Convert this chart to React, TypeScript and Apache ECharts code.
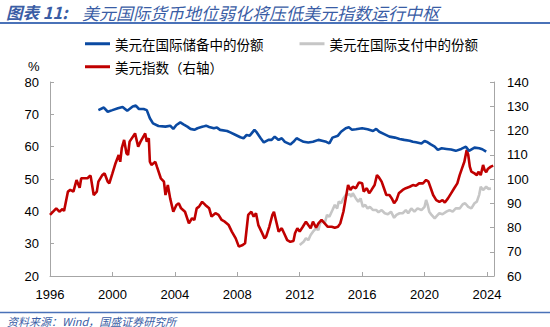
import React, { useEffect, useRef } from "react";
import * as echarts from "echarts";

const TITLE_PREFIX = "图表 11:";
const TITLE = "美元国际货币地位弱化将压低美元指数运行中枢";
const SOURCE = "资料来源：Wind，国盛证券研究所";
const SERIES_NAMES = ["美元在国际储备中的份额", "美元在国际支付中的份额", "美元指数（右轴）"];
const X_TICKS = [1996, 2000, 2004, 2008, 2012, 2016, 2020, 2024];

const reserveYears = [
  1999.1, 1999.45, 1999.7, 2000.0, 2000.35, 2000.65, 2000.95, 2001.3, 2001.5, 2001.7, 2002.0, 2002.2, 2002.4, 2002.6,
  2002.95, 2003.4, 2003.7, 2003.9, 2004.1, 2004.35, 2004.55, 2004.8, 2005.0, 2005.25, 2005.45, 2005.8, 2006.0, 2006.2,
  2006.5, 2006.7, 2006.9, 2007.35, 2007.55, 2007.9, 2008.2, 2008.4, 2008.6, 2008.8, 2009.1, 2009.25, 2009.5, 2009.7,
  2010.0, 2010.2, 2010.4, 2010.65, 2010.85, 2011.05, 2011.4, 2011.6, 2011.8, 2012.0, 2012.25, 2012.55, 2012.85, 2013.2,
  2013.5, 2013.7, 2013.9, 2014.1, 2014.45, 2014.65, 2014.95, 2015.15, 2015.35, 2015.6, 2016.0, 2016.35, 2016.7, 2016.9,
  2017.1, 2017.45, 2017.75, 2018.1, 2018.4, 2018.7, 2019.05, 2019.25, 2019.45, 2019.8, 2020.0, 2020.2, 2020.4, 2020.65,
  2020.85, 2021.1, 2021.4, 2021.7, 2022.0, 2022.35, 2022.65, 2022.85, 2023.2, 2023.5, 2023.7, 2023.95,
];
const reserveShare = [
  71.3, 72.1, 70.8, 71.3, 71.9, 72.3, 71.1, 72.4, 72.7, 71.65, 71.65, 71.3, 68.8, 67.2,
  66.4, 66.2, 66.5, 65.5, 66.7, 67.5, 66.9, 66.2, 65.5, 65.2, 65.7, 66.2, 66.5, 66.1,
  65.7, 65.9, 65.2, 64.85, 64.4, 63.6, 62.9, 62.6, 63.6, 63.4, 65.2, 64.4, 62.6, 61.3,
  62.1, 62.1, 63.1, 62.1, 62.6, 61.5, 60.7, 61.5, 62.6, 62.1, 61.5, 61.3, 61.5, 62.1,
  61.75, 61.5, 61.0, 62.8, 63.4, 64.6, 65.7, 66.0, 65.25, 65.4, 65.7, 65.4, 64.85, 65.5,
  64.6, 63.8, 63.1, 62.8, 62.4, 62.1, 61.85, 61.5, 61.35, 61.0, 61.75, 61.35, 60.7, 60.0,
  59.0, 59.5, 59.3, 59.1, 58.7, 59.3, 60.0, 58.7, 59.7, 59.5, 59.2, 58.45,
];

const paymentYears = [
  2012.0, 2012.25, 2012.4, 2012.55, 2012.7, 2012.85, 2013.05, 2013.2, 2013.3, 2013.5, 2013.6, 2013.75, 2013.9, 2014.1,
  2014.25, 2014.4, 2014.5, 2014.65, 2014.8, 2014.95, 2015.2, 2015.3, 2015.4, 2015.6, 2015.75, 2015.9, 2016.05, 2016.2,
  2016.35, 2016.5, 2016.7, 2016.9, 2017.05, 2017.25, 2017.45, 2017.65, 2017.85, 2018.05, 2018.2, 2018.4, 2018.6, 2018.8,
  2018.95, 2019.15, 2019.35, 2019.55, 2019.8, 2020.0, 2020.1, 2020.2, 2020.3, 2020.45, 2020.65, 2020.8, 2020.95, 2021.15,
  2021.4, 2021.6, 2021.8, 2022.0, 2022.25, 2022.45, 2022.6, 2022.8, 2023.0, 2023.2, 2023.35, 2023.5, 2023.6, 2023.75,
  2023.95, 2024.1, 2024.25,
];
const paymentShare = [
  29.6, 30.6, 31.7, 31.1, 32.7, 33.7, 34.75, 34.2, 36.3, 37.0, 36.3, 38.9, 38.3, 40.4,
  42.0, 40.9, 43.0, 42.5, 44.0, 45.1, 45.3, 44.5, 45.6, 44.0, 43.0, 44.0, 41.4, 42.0,
  40.9, 41.4, 40.4, 40.4, 39.7, 40.4, 39.4, 39.1, 39.9, 38.0, 38.9, 39.4, 39.4, 40.4,
  39.4, 40.9, 39.9, 40.9, 40.4, 41.4, 43.5, 42.0, 39.9, 38.9, 37.8, 38.65, 39.4, 39.1,
  39.9, 40.4, 39.9, 40.9, 40.9, 42.2, 42.5, 41.4, 40.9, 42.5, 43.0, 45.1, 47.6, 46.6,
  47.6, 46.9, 47.1,
];

const dxyYears = [
  1996.0, 1996.4, 1996.6, 1996.8, 1996.9, 1997.15, 1997.3, 1997.5, 1997.7, 1997.9, 1998.0, 1998.2, 1998.4, 1998.5,
  1998.6, 1998.8, 1999.0, 1999.1, 1999.35, 1999.5, 1999.7, 1999.8, 2000.0, 2000.2, 2000.4, 2000.5, 2000.6, 2000.75,
  2000.9, 2001.0, 2001.1, 2001.45, 2001.65, 2001.8, 2002.1, 2002.2, 2002.33, 2002.4, 2002.5, 2002.75, 2002.85, 2003.1,
  2003.3, 2003.4, 2003.55, 2003.7, 2003.9, 2004.1, 2004.25, 2004.4, 2004.65, 2004.9, 2005.1, 2005.25, 2005.4, 2005.55,
  2005.75, 2005.95, 2006.2, 2006.35, 2006.6, 2006.8, 2007.0, 2007.2, 2007.45, 2007.65, 2007.9, 2008.1, 2008.35, 2008.5,
  2008.7, 2008.9, 2009.05, 2009.2, 2009.35, 2009.55, 2009.75, 2009.85, 2010.05, 2010.25, 2010.35, 2010.5, 2010.65, 2010.85,
  2011.0, 2011.2, 2011.4, 2011.6, 2011.7, 2011.85, 2012.0, 2012.2, 2012.4, 2012.55, 2012.7, 2012.85, 2013.05, 2013.2,
  2013.4, 2013.6, 2013.8, 2014.05, 2014.25, 2014.45, 2014.6, 2014.8, 2014.95, 2015.1, 2015.25, 2015.4, 2015.6, 2015.8,
  2016.0, 2016.1, 2016.3, 2016.45, 2016.6, 2016.8, 2016.95, 2017.05, 2017.25, 2017.4, 2017.55, 2017.75, 2017.9, 2018.05,
  2018.2, 2018.35, 2018.6, 2018.8, 2019.05, 2019.25, 2019.45, 2019.65, 2019.9, 2020.1, 2020.25, 2020.4, 2020.55, 2020.75,
  2020.95, 2021.15, 2021.3, 2021.5, 2021.7, 2021.9, 2022.1, 2022.25, 2022.4, 2022.55, 2022.7, 2022.8, 2022.9, 2023.0,
  2023.2, 2023.35, 2023.45, 2023.6, 2023.75, 2023.85, 2023.95, 2024.05, 2024.25, 2024.4,
];
const dxyValues = [
  85.2, 87.9, 86.5, 87.6, 86.8, 94.8, 95.5, 94.8, 99.6, 96.4, 100.3, 100.3, 100.3, 101.0,
  101.4, 93.4, 94.8, 98.9, 101.6, 102.3, 98.9, 98.2, 102.3, 106.5, 109.9, 107.1, 112.7, 116.1,
  110.6, 109.9, 115.4, 118.8, 113.3, 115.4, 118.8, 115.4, 116.8, 107.1, 105.8, 107.1, 105.1, 100.3,
  98.9, 93.4, 97.5, 92.0, 86.5, 89.3, 90.0, 87.9, 86.5, 81.7, 83.8, 83.1, 87.9, 88.6,
  90.6, 89.3, 87.9, 84.5, 85.9, 85.2, 83.1, 82.4, 81.0, 78.3, 75.5, 72.1, 72.8, 73.5,
  85.2, 86.5, 84.5, 85.9, 81.0, 78.3, 75.5, 76.2, 80.3, 85.2, 86.5, 82.4, 78.3, 79.7,
  77.6, 74.8, 74.1, 74.4, 77.6, 79.7, 78.3, 80.3, 82.4, 81.0, 79.7, 82.4, 79.9, 81.7,
  83.1, 81.7, 80.3, 80.3, 79.9, 80.3, 81.7, 86.5, 92.0, 97.5, 95.5, 96.8, 96.2, 98.6,
  98.2, 94.8, 96.2, 94.1, 95.5, 97.5, 101.6, 100.9, 98.9, 96.2, 93.4, 93.4, 92.0, 90.0,
  91.3, 94.1, 95.5, 96.2, 96.8, 97.5, 97.2, 98.2, 98.2, 99.6, 98.9, 96.2, 93.4, 91.3,
  90.6, 91.3, 90.3, 92.0, 94.1, 96.2, 98.2, 101.6, 104.4, 107.1, 112.0, 109.9, 105.1, 103.0,
  102.3, 101.6, 103.0, 101.6, 105.8, 103.7, 102.8, 104.1, 105.1, 105.5,
];

const zip = (xs: number[], ys: number[]) => xs.map((x, i) => [x, ys[i]]);

export default function App() {
  const ref = useRef<HTMLDivElement>(null);
  useEffect(() => {
    if (!ref.current) return;
    const chart = echarts.init(ref.current, undefined, { renderer: "svg" });
    const axisLineStyle = { color: "#a6a6a6", width: 1 };
    const labelStyle = { color: "#000", fontSize: 13, fontFamily: "Liberation Sans" };
    const legendText = { fontSize: 13.5, color: "#000", fontFamily: "Noto Sans CJK SC" };
    chart.setOption({
      animation: false,
      backgroundColor: "#fff",
      grid: { left: 50, right: 56, top: 82, bottom: 51 },
      legend: [
        {
          data: [SERIES_NAMES[0], SERIES_NAMES[1]],
          left: 80,
          top: 32,
          itemWidth: 25,
          itemHeight: 3,
          itemGap: 36,
          icon: "rect",
          textStyle: legendText,
        },
        {
          data: [SERIES_NAMES[2]],
          left: 80,
          top: 55,
          itemWidth: 25,
          itemHeight: 3,
          icon: "rect",
          textStyle: legendText,
        },
      ],
      xAxis: {
        type: "value",
        min: 1996,
        max: 2024.45,
        interval: 4,
        axisLine: { show: true, lineStyle: axisLineStyle },
        axisTick: { show: true, inside: true, length: 4, lineStyle: axisLineStyle },
        splitLine: { show: false },
        axisLabel: {
          ...labelStyle,
          margin: 12,
          showMaxLabel: false,
          formatter: (v: number) => (X_TICKS.includes(v) ? String(v) : ""),
        },
      },
      yAxis: [
        {
          type: "value",
          min: 20,
          max: 80,
          interval: 10,
          position: "left",
          axisLine: { show: true, lineStyle: axisLineStyle },
          axisTick: { show: true, inside: true, length: 4, lineStyle: axisLineStyle },
          splitLine: { show: false },
          axisLabel: { ...labelStyle, margin: 11 },
        },
        {
          type: "value",
          min: 60,
          max: 140,
          interval: 10,
          position: "right",
          axisLine: { show: true, lineStyle: axisLineStyle },
          axisTick: { show: true, inside: true, length: 4, lineStyle: axisLineStyle },
          splitLine: { show: false },
          axisLabel: { ...labelStyle, margin: 13 },
        },
      ],
      graphic: [
        {
          type: "text",
          x: 6,
          y: 12,
          style: {
            text: TITLE_PREFIX,
            fontSize: 16.5,
            fontStyle: "italic",
            fontWeight: "bold",
            fontFamily: "Noto Sans CJK SC",
            fill: "#3a5da5",
            verticalAlign: "middle",
          },
        },
        {
          type: "text",
          x: 82,
          y: 12,
          style: {
            text: TITLE,
            fontSize: 17,
            fontStyle: "italic",
            fontFamily: "Noto Sans CJK SC",
            fill: "#3a5da5",
            verticalAlign: "middle",
          },
        },
        {
          type: "line",
          shape: { x1: 0, y1: 23, x2: 550, y2: 23 },
          style: { stroke: "#4a72b8", lineWidth: 2 },
        },
        {
          type: "text",
          left: 28,
          top: 60,
          style: { text: "%", fontSize: 13, fontFamily: "Liberation Sans", fill: "#000" },
        },
        {
          type: "line",
          shape: { x1: 0, y1: 312.5, x2: 550, y2: 312.5 },
          style: { stroke: "#4a72b8", lineWidth: 1.5 },
        },
        {
          type: "text",
          left: 7,
          top: 315,
          style: {
            text: SOURCE,
            fontSize: 11,
            fontStyle: "italic",
            fontFamily: "Noto Sans CJK SC",
            fill: "#3a5da5",
          },
        },
      ],
      series: [
        {
          name: SERIES_NAMES[0],
          type: "line",
          yAxisIndex: 0,
          data: zip(reserveYears, reserveShare),
          showSymbol: false,
          lineStyle: { color: "#0b4aa2", width: 2.6 },
          itemStyle: { color: "#0b4aa2" },
          z: 3,
        },
        {
          name: SERIES_NAMES[1],
          type: "line",
          yAxisIndex: 0,
          data: zip(paymentYears, paymentShare),
          showSymbol: false,
          lineStyle: { color: "#c6c6c6", width: 2.6 },
          itemStyle: { color: "#c6c6c6" },
          z: 1,
        },
        {
          name: SERIES_NAMES[2],
          type: "line",
          yAxisIndex: 1,
          data: zip(dxyYears, dxyValues),
          showSymbol: false,
          lineStyle: { color: "#c00000", width: 2.6 },
          itemStyle: { color: "#c00000" },
          z: 2,
        },
      ],
    });
    return () => chart.dispose();
  }, []);
  return <div ref={ref} style={{ width: 550, height: 327, position: "absolute", left: 0, top: 0 }} />;
}
